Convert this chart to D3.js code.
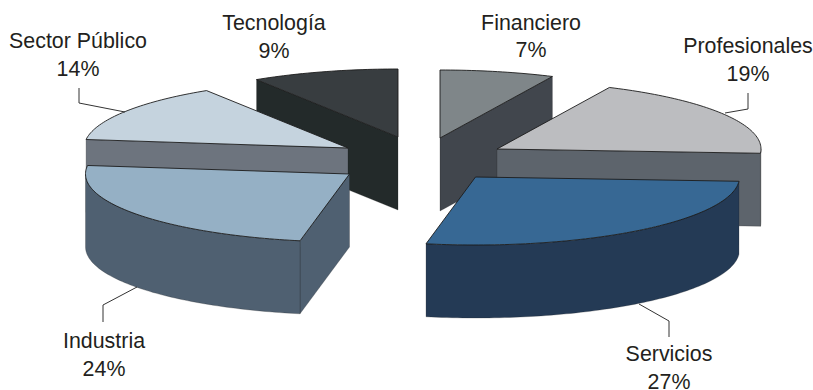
<!DOCTYPE html>
<html>
<head>
<meta charset="utf-8">
<style>
  html, body { margin: 0; padding: 0; background: #fff; overflow: hidden; }
  text { font-family: "Liberation Sans", sans-serif; font-size: 21.4px; fill: #231f20; text-anchor: middle; }
</style>
<script src="https://cdn.jsdelivr.net/npm/d3@7"></script>
</head>
<body>
<svg id="chart" width="813" height="390"></svg>
<script>
// Sector shares, clockwise from twelve o'clock
const sectors = ["Financiero", "Profesionales", "Servicios", "Industria", "Sector Público", "Tecnología"];
const shares = [7, 19, 27, 24, 14, 9];

// Fill colours per slice
const topColors = ["#7f8689", "#bcbdc0", "#376894", "#95b0c5", "#c5d3de", "#383d40"];
const sideColors = ["#41464d", "#5d646c", "#243a55", "#4f6071", "#6d747e", "#232a2a"];

// Layout of the exploded disc: tip of each slice, and the label block beside it
const tipX = [440, 497, 475.5, 349.5, 348, 398];
const tipY = [138, 149, 177, 174, 148, 137];
const labelX = [531, 748, 669, 104, 78, 274];
const labelY = [29.5, 53, 361, 348, 48, 30];

// Elbow leader lines: slice name -> [label end, elbow, disc end]
const leaders = new Map([
  ["Profesionales", [[748, 93], [748, 109], [725, 113]]],
  ["Servicios", [[669, 337], [669, 321], [639, 304]]],
  ["Industria", [[103, 322], [103, 305], [137, 287]]],
  ["Sector Público", [[79, 88], [79, 103], [125, 112]]]
]);

// Slices are painted back to front so nearer ones overlap farther ones
const paintOrder = ["Tecnología", "Financiero", "Sector Público", "Profesionales", "Industria", "Servicios"];

const depth = 73;
const lineGap = 27.5;
const svg = d3.select("#chart");

// Unit-circle to tilted-disc scales
const sx = d3.scaleLinear().domain([-1, 1]).range([-264, 264]);
const sy = d3.scaleLinear().domain([-1, 1]).range([-68, 68]);
const rimX = a => sx(Math.sin(a));
const rimY = a => sy(-Math.cos(a));

const arcs = d3.pie().sort(null).value(d => d)(shares);
const line = d3.line();

// Samples the rim between two angles, inclusive of both ends
function rim(a0, a1, dy = 0) {
  const n = Math.max(2, Math.ceil((a1 - a0) / 0.02));
  return d3.range(n + 1).map(i => {
    const a = a0 + (a1 - a0) * i / n;
    return [rimX(a), rimY(a) + dy];
  });
}

// Sides carry only a faint edge; tops get the full dark outline
function addSide(g, points, fill) {
  g.append("path")
    .attr("d", line(points) + "Z")
    .attr("fill", fill)
    .attr("stroke", "#1c1c1c")
    .attr("stroke-opacity", 0.4)
    .attr("stroke-width", 0.6)
    .attr("stroke-linejoin", "round");
}

function addTop(g, points, fill) {
  g.append("path")
    .attr("d", line(points) + "Z")
    .attr("fill", fill)
    .attr("stroke", "#1c1c1c")
    .attr("stroke-width", 0.9)
    .attr("stroke-linejoin", "round");
}

paintOrder.forEach(name => {
  const i = sectors.indexOf(name);
  const { startAngle: a0, endAngle: a1 } = arcs[i];
  const g = svg.append("g").attr("transform", `translate(${tipX[i]},${tipY[i]})`);

  // Cut faces: drawn only when their outward normal points towards the viewer
  [[a0, a0 - Math.PI / 2], [a1, a1 + Math.PI / 2]].forEach(([edge, normal]) => {
    if (Math.cos(normal) < -1e-6) {
      const x = rimX(edge), y = rimY(edge);
      addSide(g, [[0, 0], [x, y], [x, y + depth], [0, depth]], sideColors[i]);
    }
  });

  // Outer wall: only the front half of the rim can be seen
  const w0 = Math.max(a0, Math.PI / 2), w1 = Math.min(a1, 3 * Math.PI / 2);
  if (w1 > w0) {
    addSide(g, rim(w0, w1).concat(rim(w0, w1, depth).reverse()), sideColors[i]);
  }

  // Top of the slice
  addTop(g, [[0, 0]].concat(rim(a0, a1)), topColors[i]);
});

// Leader lines
svg.append("g").selectAll("path")
  .data([...leaders.values()])
  .join("path")
  .attr("d", d => line(d))
  .attr("fill", "none")
  .attr("stroke", "#333")
  .attr("stroke-width", 1);

// Labels: name on the first line, share on the second
const labels = svg.append("g").selectAll("g")
  .data(sectors)
  .join("g")
  .attr("transform", (d, i) => `translate(${labelX[i]},${labelY[i]})`);
labels.append("text").text(d => d);
labels.append("text").attr("y", lineGap).text((d, i) => shares[i] + "%");
</script>
</body>
</html>
